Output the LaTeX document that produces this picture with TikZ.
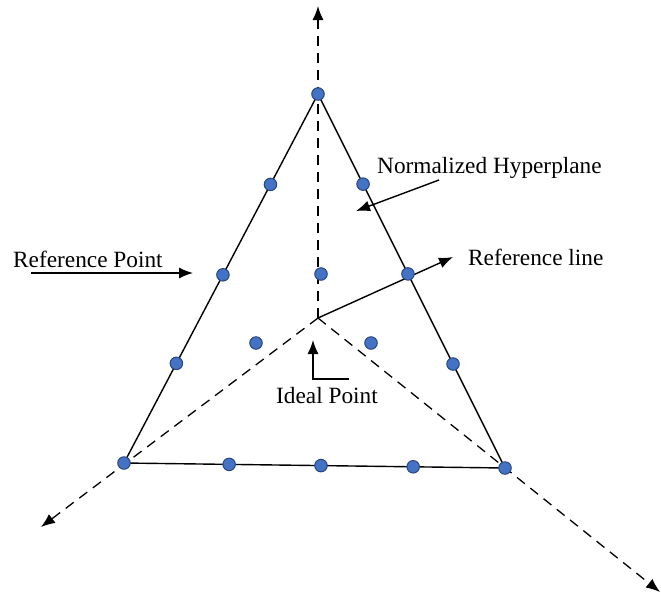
\documentclass[tikz,border=0pt]{standalone}
\usepackage{fontspec}
\setmainfont{Liberation Serif}
\usetikzlibrary{arrows.meta,calc}
\definecolor{dotblue}{RGB}{68,114,196}
\definecolor{dotedge}{RGB}{40,70,125}
\begin{document}
\begin{tikzpicture}[x=1pt,y=-1pt,
  refpt/.style={circle,fill=dotblue,draw=dotedge,line width=1pt,inner sep=0pt,minimum size=12.5pt},
  axisline/.style={dash pattern=on 10pt off 7pt, line width=1.3pt, -{Latex[length=14pt,width=11pt]}},
  edgeline/.style={line width=1.4pt},
  lbl/.style={font=\fontsize{23.3}{27}\selectfont, inner sep=0pt, anchor=base west},
  pointer/.style={line width=1.4pt, -{Latex[length=14pt,width=11pt]}}]
\useasboundingbox (0,0) rectangle (661,598);
% vertices and axes
\coordinate (O) at (318,318);
\coordinate (A) at (318,94);
\coordinate (B) at (124,463);
\coordinate (C) at (505,468);
\coordinate (Ztip) at (318,6);
\coordinate (Xtip) at (41,527);
\coordinate (Ytip) at (660,592);
\draw[axisline] (O) -- (Ztip);
\draw[axisline] (O) -- (Xtip);
\draw[axisline] (O) -- (Ytip);
\draw[edgeline] (A) -- (B) -- (C) -- cycle;
% labels and pointers
\node[lbl] (rp) at (13,267) {Reference Point};
\coordinate (rpS) at (31,273);
\coordinate (rpE) at (193,273);
\draw[pointer] (rpS) -- (rpE);
\node[lbl] (nh) at (377,173) {Normalized Hyperplane};
\coordinate (nhS) at (439,180);
\coordinate (nhE) at (356,211);
\draw[pointer] (nhS) -- (nhE);
\node[lbl] (rl) at (468,265) {Reference line};
\coordinate (rlE) at (453,257);
\draw[pointer] (O) -- (rlE);
\node[lbl] (ip) at (276,403) {Ideal Point};
\coordinate (ipS) at (349,379);
\coordinate (ipK) at (313,379);
\coordinate (ipE) at (313,340);
\draw[pointer] (ipS) -- (ipK) -- (ipE);
% reference points
\node[refpt] (pA) at (A) {};
\node[refpt] (pB) at (B) {};
\node[refpt] (pC) at (C) {};
\node[refpt] (l1) at ($(A)!0.245!(B)$) {};
\node[refpt] (l2) at ($(A)!0.49!(B)$) {};
\node[refpt] (l3) at ($(A)!0.73!(B)$) {};
\node[refpt] (r1) at ($(A)!0.241!(C)$) {};
\node[refpt] (r2) at ($(A)!0.481!(C)$) {};
\node[refpt] (r3) at ($(A)!0.722!(C)$) {};
\node[refpt] (b1) at ($(B)!0.276!(C)$) {};
\node[refpt] (b2) at ($(B)!0.517!(C)$) {};
\node[refpt] (b3) at ($(B)!0.759!(C)$) {};
\node[refpt] (i1) at (321,274) {};
\node[refpt] (i2) at (256,343) {};
\node[refpt] (i3) at (371,343) {};
\end{tikzpicture}
\end{document}
